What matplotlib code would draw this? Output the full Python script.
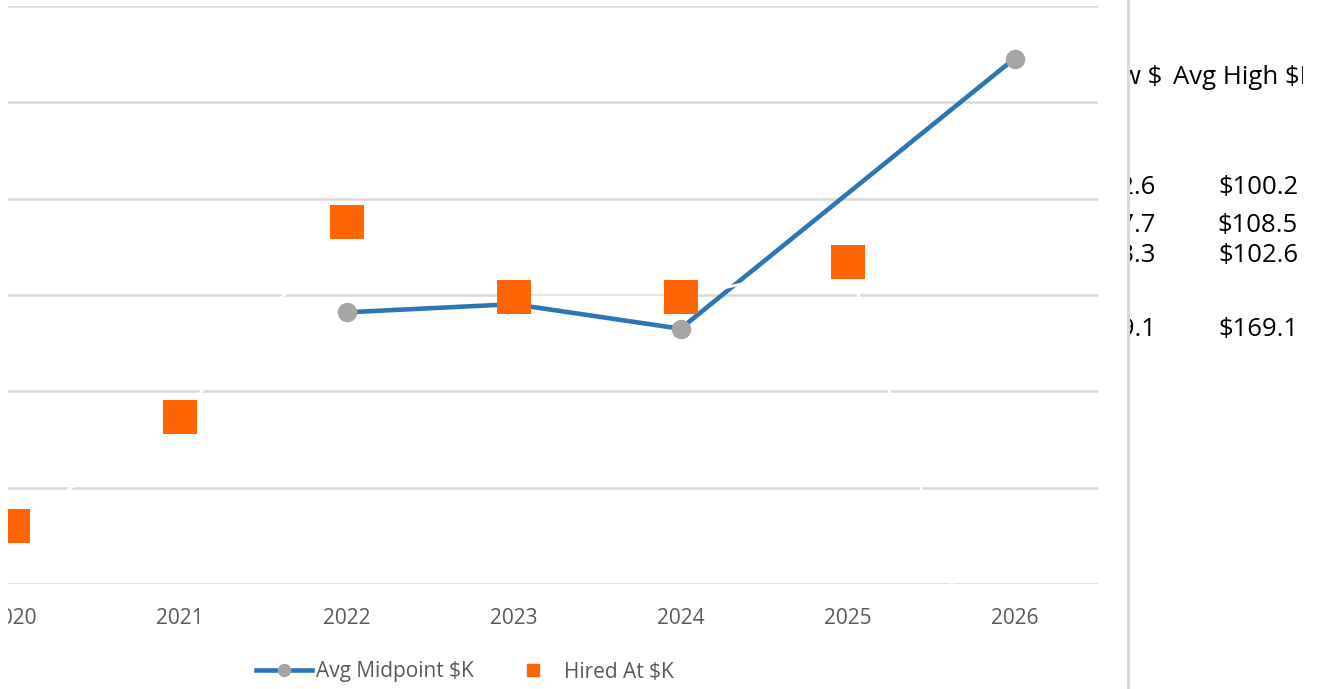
import numpy as np
import matplotlib
matplotlib.use("Agg")
import matplotlib.pyplot as plt
from matplotlib.lines import Line2D
from matplotlib.patches import Rectangle
from matplotlib.transforms import Bbox, TransformedBbox

# ---------------- data ----------------
years = ['2020', '2021', '2022', '2023', '2024', '2025', '2026']
avg_midpoint = [np.nan, np.nan, 96.4, 98.1, 93.0, np.nan, 149.1]
hired_at = [52.0, 74.7, 115.2, 99.6, 99.6, 106.9, 0.0]
y_ticks = [40, 60, 80, 100, 120, 140, 160]

table_header_low = 'Avg Low $'
table_header_high = 'Avg High $K'
table_low = ['$92.6', '$87.7', '$83.3', '', '$129.1']
table_high = ['$100.2', '$108.5', '$102.6', '', '$169.1']

# ---------------- style ----------------
W, H = 1326, 689
BLUE = '#2E75B6'
GRAY = '#A5A5A5'
ORANGE = '#FF6600'
GRID = '#D9D9D9'
TXT = '#595959'
FONT = 'Open Sans'

plt.rcParams['font.family'] = [FONT, 'DejaVu Sans']

fig = plt.figure(figsize=(W / 100, H / 100), dpi=100)
fig.patch.set_facecolor('white')


def fx(px):
    return px / W


def fy(py):
    return 1 - py / H


# plot area: left edge (cut) at -71 px, right at 1098 px, top 6 px, bottom 584 px
ax = fig.add_axes([fx(-71), fy(584), fx(1098 + 71), (584 - 6) / H])
ax.set_facecolor('none')
x = np.arange(len(years))

ax.set_xlim(-0.5, len(years) - 0.5)
ax.set_ylim(y_ticks[0], y_ticks[-1])
ax.set_yticks(y_ticks)
ax.set_yticklabels([])
ax.tick_params(axis='y', length=0)
ax.set_xticks(x)
ax.set_xticklabels(years, fontsize=15, color=TXT, family=FONT)
ax.tick_params(axis='x', length=0, pad=17.5)
for s in ax.spines.values():
    s.set_visible(False)
ax.grid(axis='y', color=GRID, linewidth=1.8, zorder=0)
ax.set_axisbelow(True)

# midpoint line (gaps connected)
mid = np.array(avg_midpoint, dtype=float)
m = ~np.isnan(mid)
ax.plot(x[m], mid[m], color=BLUE, linewidth=3.3, solid_capstyle='round',
        marker='o', markersize=13, markerfacecolor=GRAY, markeredgecolor=GRAY,
        zorder=3)

# hired-at series: white connecting line + orange squares
hired = np.array(hired_at, dtype=float)
ax.plot(x, hired, color='white', linewidth=2.0, zorder=4)
ax.plot(x, hired, linestyle='none', marker='s', markersize=25,
        markerfacecolor=ORANGE, markeredgecolor=ORANGE, markeredgewidth=0,
        zorder=5)

# legend
h1 = Line2D([], [], color=BLUE, linewidth=3.3, marker='o', markersize=8.6,
            markerfacecolor=GRAY, markeredgecolor=GRAY)
h2 = Line2D([], [], color='white', linewidth=2.0, marker='s', markersize=8.5,
            markerfacecolor=ORANGE, markeredgecolor=ORANGE)
leg = ax.legend([h1, h2], ['Avg Midpoint $K', 'Hired At $K'], ncol=2,
                loc='center', bbox_to_anchor=(fx(465), fy(672)),
                bbox_transform=fig.transFigure, frameon=False,
                prop={'family': FONT, 'size': 15}, labelcolor=TXT,
                handlelength=2.7, handletextpad=0.15, columnspacing=1.5,
                borderpad=0.2)

# white strip at the very left (chart cut off)
fig.add_artist(Rectangle((0, 0), fx(8), 1, transform=fig.transFigure,
                         facecolor='white', edgecolor='none', zorder=10))

# chart border on the right
fig.add_artist(Line2D([fx(1128), fx(1128)], [0, 1], transform=fig.transFigure,
                      color=GRID, linewidth=2.2, zorder=11))

# spreadsheet cells to the right of the chart (partly hidden)
clip = TransformedBbox(Bbox.from_extents(fx(1130), 0, fx(1303), 1), fig.transFigure)


def cell(px, py, s, ha):
    t = fig.text(fx(px), fy(py), s, ha=ha, va='baseline', fontsize=18.5,
                 family=FONT, color='black', clip_on=True)
    t.set_clip_box(clip)
    return t


# header
cell(1162, 84, table_header_low, 'right')
cell(1173, 84, table_header_high, 'left')

row_baselines = [194, 232, 262, 299, 336]
for yb, lo, hi in zip(row_baselines, table_low, table_high):
    if lo:
        cell(1156, yb, lo, 'right')
    if hi:
        cell(1298, yb, hi, 'right')

fig.savefig('out.png', dpi=100, facecolor='white')
